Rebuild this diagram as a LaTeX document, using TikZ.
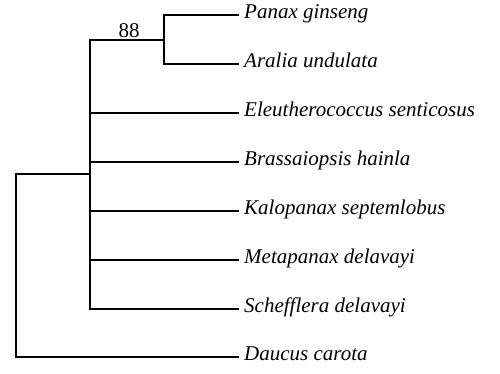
\documentclass[tikz,border=0pt]{standalone}
\usepackage{fontspec}
\setmainfont{Liberation Serif}
\usetikzlibrary{positioning}

\begin{document}
\begin{tikzpicture}[
    x=1pt, y=-1pt,
    branch/.style={line width=1.5pt, line cap=rect},
    taxon/.style={anchor=west, inner xsep=6pt, inner ysep=0pt, text height=0.62em, text depth=0pt, font=\fontsize{21}{24}\selectfont\itshape},
    support/.style={inner sep=0pt, font=\fontsize{21}{24}\selectfont}
]

\useasboundingbox (0,0) rectangle (500,374);

% Internal nodes
\coordinate (root) at (16,174);
\coordinate (core) at (90,174);
\coordinate (panaxclade) at (164,40);

% Taxa
\node[taxon] (panax) at (238,15) {Panax ginseng};
\node[taxon] (aralia) at (238,64) {Aralia undulata};
\node[taxon] (eleuth) at (238,113) {Eleutherococcus senticosus};
\node[taxon] (brass) at (238,162) {Brassaiopsis hainla};
\node[taxon] (kalop) at (238,211) {Kalopanax septemlobus};
\node[taxon] (metap) at (238,260) {Metapanax delavayi};
\node[taxon] (scheff) at (238,309) {Schefflera delavayi};
\node[taxon] (daucus) at (238,357) {Daucus carota};

% Bootstrap support
\node[support] (boot) at (129,31) {88};

% Panax + Aralia
\draw[branch] (panaxclade) |- (panax.west);
\draw[branch] (panaxclade) |- (aralia.west);

% Core clade (polytomy)
\draw[branch] (core) |- (panaxclade);
\draw[branch] (core) |- (eleuth.west);
\draw[branch] (core) |- (brass.west);
\draw[branch] (core) |- (kalop.west);
\draw[branch] (core) |- (metap.west);
\draw[branch] (core) |- (scheff.west);

% Root
\draw[branch] (core) -- (root) |- (daucus.west);

\end{tikzpicture}
\end{document}
